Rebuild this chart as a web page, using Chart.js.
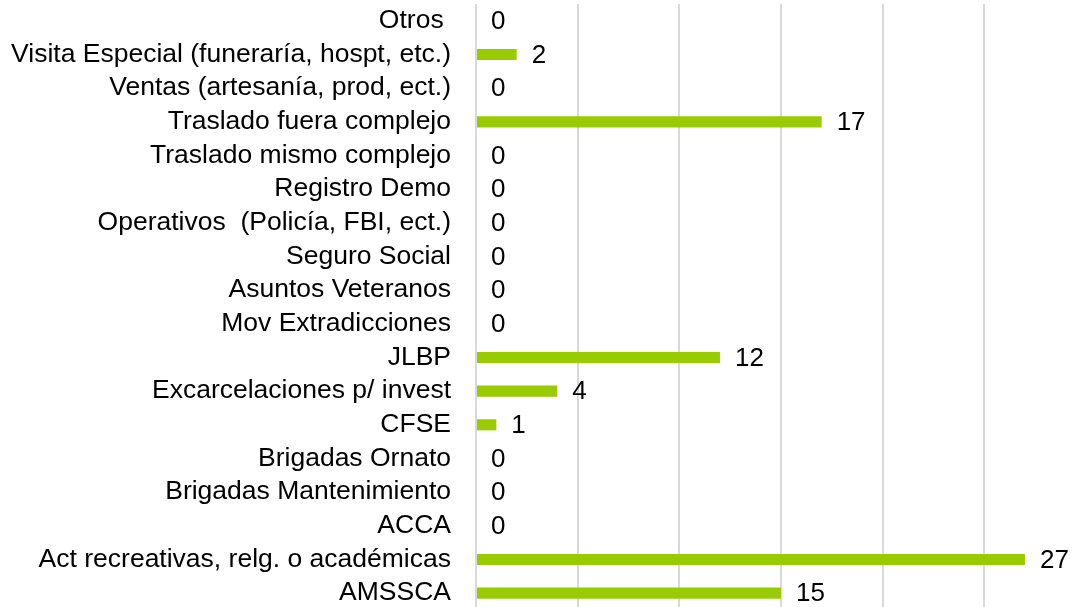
<!DOCTYPE html>
<html>
<head>
<meta charset="utf-8">
<script src="https://cdn.jsdelivr.net/npm/chart.js@4/dist/chart.umd.min.js"></script>
<style>
  html, body { margin: 0; padding: 0; background: #fff; overflow: hidden; }
  #movChart { display: block; }
</style>
</head>
<body>
<canvas id="movChart" width="1077" height="610"></canvas>
<script>
// Movimientos por tipo (top to bottom)
const categories = [
  'Otros ',
  'Visita Especial (funeraría, hospt, etc.)',
  'Ventas (artesanía, prod, ect.)',
  'Traslado fuera complejo',
  'Traslado mismo complejo',
  'Registro Demo',
  'Operativos  (Policía, FBI, ect.)',
  'Seguro Social',
  'Asuntos Veteranos',
  'Mov Extradicciones',
  'JLBP',
  'Excarcelaciones p/ invest',
  'CFSE',
  'Brigadas Ornato',
  'Brigadas Mantenimiento',
  'ACCA',
  'Act recreativas, relg. o académicas',
  'AMSSCA'
];
const counts = [0, 2, 0, 17, 0, 0, 0, 0, 0, 0, 12, 4, 1, 0, 0, 0, 27, 15];

const FONT = '"Liberation Sans", Arial, sans-serif';

// Value labels next to each bar end
const valueLabels = {
  id: 'valueLabels',
  afterDatasetsDraw(chart) {
    const ctx = chart.ctx;
    const meta = chart.getDatasetMeta(0);
    ctx.save();
    ctx.font = '26px ' + FONT;
    ctx.fillStyle = '#000';
    ctx.textAlign = 'left';
    ctx.textBaseline = 'middle';
    meta.data.forEach((bar, i) => {
      ctx.fillText(String(counts[i]), bar.x + 15, bar.y + 1);
    });
    ctx.restore();
  }
};

const ctxMov = document.getElementById('movChart').getContext('2d');
const movChart = new Chart(ctxMov, {
  type: 'bar',
  data: {
    labels: categories,
    datasets: [{
      data: counts,
      backgroundColor: '#99CC00',
      barPercentage: 0.66,
      categoryPercentage: 0.5
    }]
  },
  options: {
    indexAxis: 'y',
    responsive: false,
    animation: false,
    layout: { padding: { top: 4, right: 0, bottom: 0, left: 0 } },
    plugins: {
      legend: { display: false },
      tooltip: { enabled: false }
    },
    scales: {
      x: {
        min: 0,
        max: 29.56,
        ticks: { display: false, stepSize: 5, includeBounds: false },
        grid: { color: '#d9d9d9', lineWidth: 2, drawTicks: false },
        border: { display: false }
      },
      y: {
        afterFit: scale => {
          scale.width = 476;
          scale.paddingTop = 0;
          scale.paddingBottom = 0;
        },
        ticks: {
          padding: 25,
          color: '#000',
          font: { family: FONT, size: 26.5 },
          autoSkip: false
        },
        grid: { display: false, drawTicks: false },
        border: { display: false }
      }
    }
  },
  plugins: [valueLabels]
});
</script>
</body>
</html>
